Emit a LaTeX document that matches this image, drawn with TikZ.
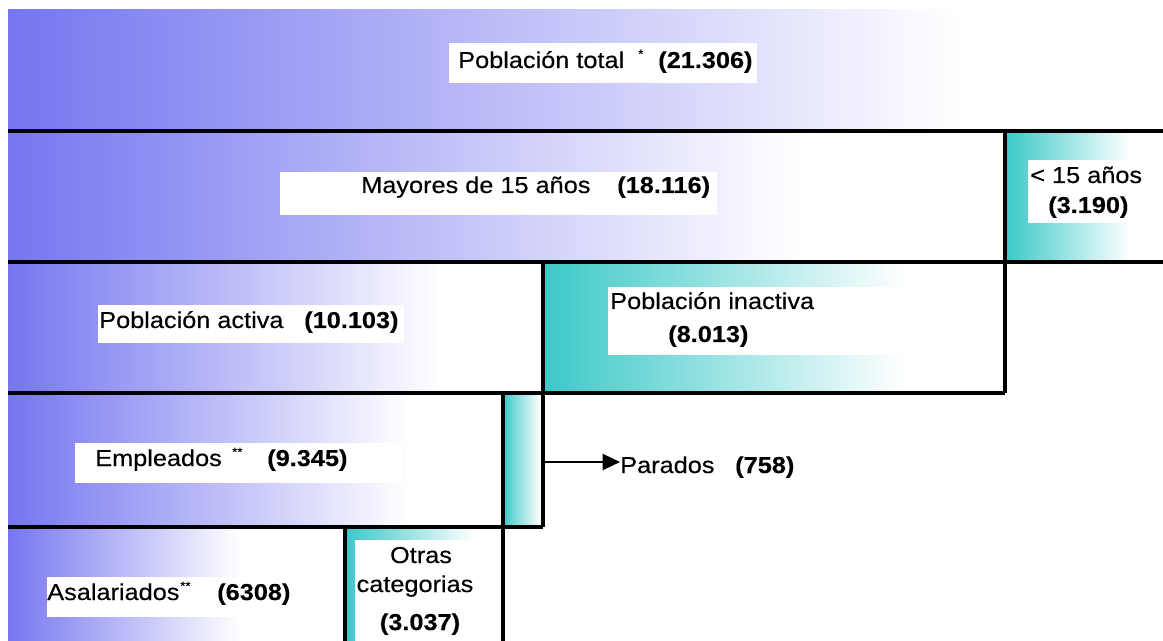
\documentclass[tikz,border=0pt]{standalone}
\usepackage{fontspec}
\setmainfont{Liberation Sans}[FakeStretch=1.1, FakeBold=0.3]
\usetikzlibrary{arrows.meta}
\definecolor{blueL}{RGB}{118,118,240}
\definecolor{tealL}{RGB}{60,200,200}
\tikzset{
  sep/.style={line width=2.6pt, black},
  lbl/.style={anchor=base west, inner sep=0pt, font=\fontsize{17.25}{21}\selectfont},
  num/.style={anchor=base west, inner sep=0pt, font=\fontsize{17.25}{21}\selectfont\bfseries},
  ctr/.style={anchor=base, inner sep=0pt, font=\fontsize{17.25}{21}\selectfont},
  star/.style={anchor=base west, inner sep=0pt, font=\fontsize{9}{9}\selectfont},
  whitebg/.style={fill=white}
}
\begin{document}
\begin{tikzpicture}[x=0.75pt,y=-0.75pt]
\useasboundingbox (0,0) rectangle (1163,641);
\fill[white] (0,0) rectangle (1163,641);
% row 1
\shade[left color=blueL, right color=white] (8,10) rectangle (960,131);
% row 2
\shade[left color=blueL, right color=white] (8,131) rectangle (800,262);
\shade[left color=tealL, right color=white] (1005,131) rectangle (1130,262);
% row 3
\shade[left color=blueL, right color=white] (8,262) rectangle (440,393);
\shade[left color=tealL, right color=white] (543,262) rectangle (905,393);
% row 4
\shade[left color=blueL, right color=white] (8,393) rectangle (410,527);
\shade[left color=tealL, right color=white] (503,393) rectangle (540,527);
% row 5
\shade[left color=blueL, right color=white] (8,527) rectangle (240,641);
\shade[left color=tealL, right color=white] (345,527) rectangle (475,641);
% white label backgrounds
\fill[whitebg] (449,43) rectangle (757,83);
\fill[whitebg] (280,172) rectangle (717,215);
\fill[whitebg] (1028,160) rectangle (1138,223);
\fill[whitebg] (98,305) rectangle (404,343);
\fill[whitebg] (608,287) rectangle (907,355);
\fill[whitebg] (75,443) rectangle (402,483);
\fill[whitebg] (47,577) rectangle (300,617);
\fill[whitebg] (355,540) rectangle (500,641);
% labels
\node[lbl] (total) at (458,68) {Población total};
\node[star] (totals) at (638,58) {*};
\node[num] (totaln) at (658,68) {(21.306)};
\node[lbl] (mayores) at (361,193) {Mayores de 15 años};
\node[num] (mayoresn) at (617,193) {(18.116)};
\node[lbl] (menores) at (1030,183) {< 15 años};
\node[num] (menoresn) at (1048,213) {(3.190)};
\node[lbl] (activa) at (99,328) {Población activa};
\node[num] (activan) at (304,328) {(10.103)};
\node[lbl] (inactiva) at (610,309) {Población inactiva};
\node[num] (inactivan) at (668,342) {(8.013)};
\node[lbl] (empleados) at (95,466) {Empleados};
\node[star] (empleadoss) at (232,456) {**};
\node[num] (empleadosn) at (267,466) {(9.345)};
\node[lbl] (parados) at (620,473) {Parados};
\node[num] (paradosn) at (735,473) {(758)};
\node[lbl] (asalariados) at (47,600) {Asalariados};
\node[star] (asalariadoss) at (180,590) {**};
\node[num] (asalariadosn) at (217,600) {(6308)};
\node[ctr] (otras) at (421,563) {Otras};
\node[ctr] (categorias) at (415,592) {categorias};
\node[ctr, font=\fontsize{17.25}{21}\selectfont\bfseries] (otrasn) at (420,630) {(3.037)};
% separator lines
\draw[sep] (8,131) -- (1163,131);
\draw[sep] (8,262) -- (1163,262);
\draw[sep] (1005,131) -- (1005,393);
\draw[sep] (8,393) -- (1005,393);
\draw[sep] (543,262) -- (543,527);
\draw[sep] (8,527) -- (543,527);
\draw[sep] (503,393) -- (503,641);
\draw[sep] (345,527) -- (345,641);
\coordinate (pa) at (543,462);
\draw[line width=1.7pt, -{Triangle[length=13pt,width=12pt]}] (pa) -- (pa -| parados.west);
\end{tikzpicture}
\end{document}
